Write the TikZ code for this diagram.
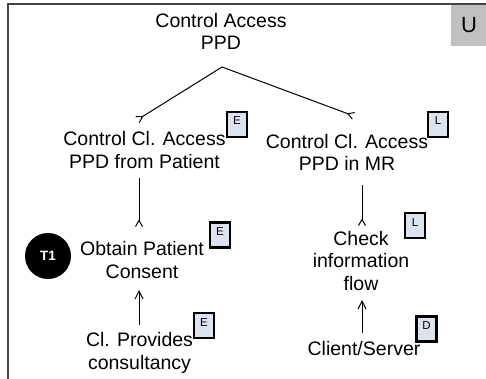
\documentclass[tikz,border=0pt]{standalone}
\usepackage{fontspec}
\setmainfont{Liberation Sans}
\usetikzlibrary{arrows.meta}
\definecolor{badgefill}{HTML}{DCE3EE}
\definecolor{framegray}{HTML}{444444}
\definecolor{tabgray}{HTML}{C0C0C0}
\begin{document}
\begin{tikzpicture}[x=1pt,y=-1pt,
  lbl/.style={font=\fontsize{19.5}{22.5}\selectfont, align=center, inner sep=0pt, anchor=base},
  badge/.style={draw=black, line width=2.2pt, fill=badgefill, minimum width=20pt,
    inner sep=0pt, text height=13pt, text depth=12pt, font=\fontsize{11.5}{11.5}\selectfont},
  fork/.style={line width=1pt, -{Straight Barb[reversed,length=6pt,width=7pt,line width=1pt]}},
  uparrow/.style={line width=1pt, -{Straight Barb[length=8pt,width=8pt,line width=1pt]}},
]
\useasboundingbox (0,0) rectangle (486,379);

% frame and level tab
\fill[tabgray] (451,5) rectangle (486,46);
\node[font=\fontsize{22}{22}\selectfont, inner sep=0pt] (tab) at (469,25.5) {U};
\draw[framegray, line width=2.5pt] (8,379) -- (8,4) -- (486,4);

% goals (anchored at the baseline of the last line)
\node[lbl] (root) at (221,50) {Control Access\\PPD};
\node[lbl] (lc) at (144.5,168) {Control Cl. Access\\PPD from Patient};
\node[lbl] (rc) at (347,171) {Control Cl. Access\\PPD in MR};
\node[lbl] (ob) at (142,278) {Obtain Patient\\Consent};
\node[lbl] (ck) at (361,290) {Check\\information\\flow};
\node[lbl] (cp) at (139.5,369) {Cl. Provides\\consultancy};
\node[lbl] (cs) at (364,355) {Client/Server};

% badges
\node[badge] (bE1) at (237,124.5) {E};
\node[badge] (bL1) at (438,124.5) {L};
\node[badge] (bE2) at (220,235) {E};
\node[badge] (bL2) at (415,225.5) {L};
\node[badge] (bE3) at (204,325.5) {E};
\node[badge] (bD) at (426.5,329) {D};

% task marker
\node[circle, fill=black, minimum size=46pt, inner sep=0pt, text=white,
  font=\fontsize{13.5}{13.5}\selectfont\bfseries] (t1) at (48,256) {T1};

% connector end points
\coordinate (rootjoin) at (222,67);
\coordinate (lcin) at (137,120);
\coordinate (rcin) at (354,116);
\coordinate (lcout) at (139,178);
\coordinate (obin) at (139,227);
\coordinate (rcout) at (362,185);
\coordinate (ckin) at (362,226);
\coordinate (cpout) at (139,325);
\coordinate (obout) at (139,290);
\coordinate (csout) at (362,333);
\coordinate (ckout) at (362,300);

% connectors
\draw[fork] (rootjoin) -- (lcin);
\draw[fork] (rootjoin) -- (rcin);
\draw[fork] (lcout) -- (obin);
\draw[fork] (rcout) -- (ckin);
\draw[uparrow] (cpout) -- (obout);
\draw[uparrow] (csout) -- (ckout);
\end{tikzpicture}
\end{document}
